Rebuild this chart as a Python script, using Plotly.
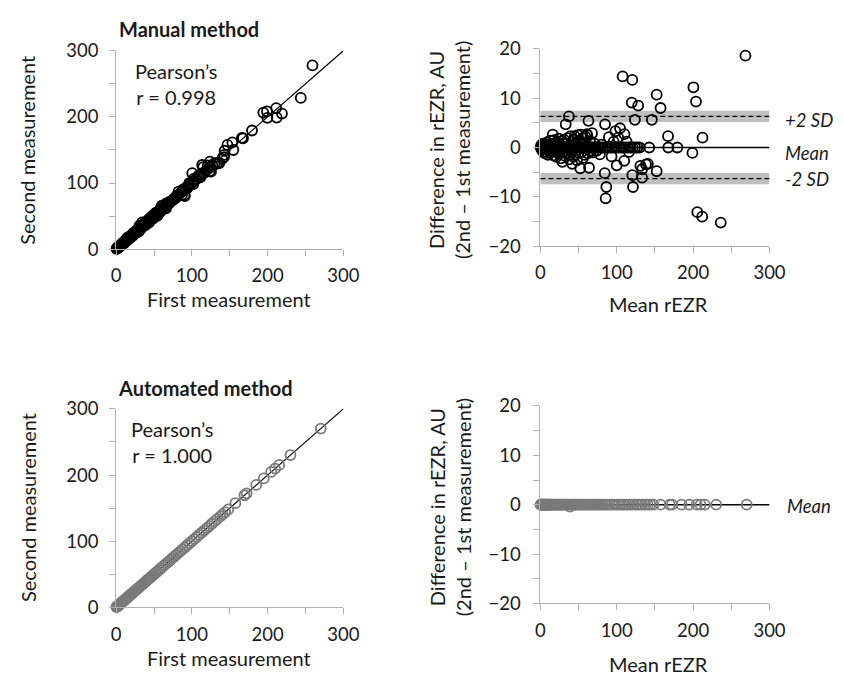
import plotly.graph_objects as go

# ---------------- data ----------------
# Manual method, Bland-Altman: mean of two measurements and difference (2nd - 1st)
manual_zero_mean = [0.5, 1, 1.5, 2, 2.5, 3, 3.5, 4, 4.5, 5, 5.5, 6, 7, 8, 9, 10, 11, 12, 13, 14,
                    15, 16, 17, 18, 19, 20, 21, 22, 23, 24, 25, 26, 27, 28, 29, 30, 32, 34, 36, 38,
                    40, 42, 44, 46, 48, 50, 52, 54, 56, 58, 60, 62, 64, 66, 68, 70, 73, 76, 79, 82,
                    85, 88, 91, 94, 97, 100, 103, 106, 109, 112, 115, 118, 121, 124, 127, 130,
                    142.6, 167.5, 179.4]
manual_pts_mean = [1, 2, 3, 4, 5, 6, 7, 8, 9, 10, 11, 12, 13, 14, 15, 16.2, 17, 18, 19, 20,
                   21, 22, 23, 24, 25, 26, 27, 28, 28.9, 30, 31, 32, 33.2, 34, 35, 36, 37.4, 38,
                   39.6, 40, 41.7, 42, 43, 44, 45, 46, 47, 48, 49, 50, 51, 52.3, 53, 54, 55, 56,
                   57, 58, 59, 60.9, 61.3, 62, 63, 63.8, 65, 66, 67.7, 69, 71, 74, 77.9, 80, 84.3,
                   84.7, 85.5, 86.4, 89.8, 93.2, 96, 98.3, 100, 102, 104.3, 107.7, 109.8, 110.2,
                   113, 116, 119.6, 120.4, 120.4, 121.3, 123.8, 128.1, 131, 133.2, 133.2, 138.3,
                   140.8, 146, 152.3, 152.3, 157.4, 167.2, 199.1, 200.4, 203.8, 205.5, 211.9,
                   212.3, 236.2, 268.5]
manual_pts_diff = [0.4, -0.5, 0.8, -0.9, 0.3, -1.2, 0.6, -0.4, 1.1, -1.5, 0.7, -0.8, 1.4, -1.1,
                   0.5, 2.6, -1.6, 1.5, -0.6, 0.9, -1.9, 1.2, -0.7, 1.8, -1.3, 0.6, -2.2, 1.3,
                   -2.9, -0.9, 1.6, -1.7, 4.7, 0.8, -1.2, 1.9, 6.3, -2.4, 2.3, -0.8, -3.3, 1.1,
                   -1.9, 1.6, 2.3, -1.4, 0.7, -2.6, 2.5, -1.1, 1.4, -4.2, 2.6, -0.9, 1.9, -2.1,
                   0.8, -1.5, 2.2, 2.7, 2.5, -1.2, 5.4, -4.1, 1.3, -0.7, 2.9, -1.0, 0.8, -0.6,
                   -1.4, 0.6, -5.2, 4.7, -10.3, -8.0, 2.1, -1.8, 1.2, 3.3, -3.6, 2.0, 3.9, 14.4,
                   -2.7, 2.7, 1.2, -0.9, 9.1, 13.7, -5.6, -8.0, 5.6, 8.5, -3.7, -6.1, -4.4, -3.4,
                   -3.3, 5.6, 10.7, -4.8, 8.0, 2.3, -1.1, 12.2, 9.3, -13.1, -14.0, 2.0, -15.2, 18.6]

manual_mean = manual_zero_mean + manual_pts_mean
manual_diff = [0.0] * len(manual_zero_mean) + manual_pts_diff
manual_first = [m - d / 2 for m, d in zip(manual_mean, manual_diff)]
manual_second = [m + d / 2 for m, d in zip(manual_mean, manual_diff)]

# Automated method, Bland-Altman
auto_mean = [0.3, 0.8, 1.2, 1.7, 2.1, 2.6, 3.0, 3.5, 4.1, 4.6, 5.2, 5.8, 6.4, 7.1, 7.8, 8.5,
             9.3, 10.1, 11.0, 11.9, 12.8, 13.8, 14.8, 15.9, 17.0, 18.2, 19.4, 20.7, 22.0, 23.4,
             24.8, 26.3, 27.8, 29.4, 31.0, 32.7, 34.4, 36.2, 38.7, 39.9, 41.8, 43.8, 45.8, 47.9,
             50.0, 52.2, 54.4, 56.7, 59.0, 61.4, 63.8, 66.3, 68.8, 71.4, 74.0, 76.7, 79.4, 82.2,
             85.0, 87.9, 90.8, 93.8, 96.8, 99.9, 103.0, 106.2, 109.4, 112.7, 116.0, 119.4, 122.8,
             126.3, 129.8, 133.4, 137.4, 140.6, 144.0, 148.0, 157.4, 169.4, 172.3, 185.0, 194.9,
             204.7, 209.8, 215.3, 230.2, 270.2]
auto_diff = [0.0] * 38 + [-0.4] + [0.0] * (len(auto_mean) - 39)
auto_first = [m - d / 2 for m, d in zip(auto_mean, auto_diff)]
auto_second = [m + d / 2 for m, d in zip(auto_mean, auto_diff)]

identity = [0, 300]
ba_mean_line = 0.0
sd_upper = 6.3
sd_lower = -6.3
sd_band = 1.15
ba_x_extent = [0, 300]

scatter_ticks = [0, 100, 200, 300]
ba_ticks = [-20, -10, 0, 10, 20]

# ---------------- styling ----------------
W, H = 844, 687
FONT = "Lato"
TXT = "#1a1a1a"
AXC = "#b0b0b0"
GRAY_MK = "#7a7a7a"
FS = 20
TFS = 18.5


def px(x):
    return x / W


def py(y):
    return 1 - y / H


fig = go.Figure()

for xa, ya in (("x", "y"), ("x3", "y3")):
    fig.add_trace(go.Scatter(x=identity, y=identity, mode="lines", xaxis=xa, yaxis=ya,
                             line=dict(color="black", width=1.2), hoverinfo="skip"))
for xa, ya in (("x2", "y2"), ("x4", "y4")):
    fig.add_trace(go.Scatter(x=ba_x_extent, y=[ba_mean_line] * 2, mode="lines", xaxis=xa, yaxis=ya,
                             line=dict(color="black", width=1.6), hoverinfo="skip"))

mk_black = dict(symbol="circle-open", size=10, color="black", line=dict(width=1.8))
mk_gray = dict(symbol="circle-open", size=10, color=GRAY_MK, line=dict(width=1.8))

fig.add_trace(go.Scatter(x=manual_first, y=manual_second, mode="markers", marker=mk_black,
                         xaxis="x", yaxis="y", cliponaxis=False))
fig.add_trace(go.Scatter(x=manual_mean, y=manual_diff, mode="markers", marker=mk_black,
                         xaxis="x2", yaxis="y2", cliponaxis=False))
fig.add_trace(go.Scatter(x=auto_first, y=auto_second, mode="markers", marker=mk_gray,
                         xaxis="x3", yaxis="y3", cliponaxis=False))
fig.add_trace(go.Scatter(x=auto_mean, y=auto_diff, mode="markers", marker=mk_gray,
                         xaxis="x4", yaxis="y4", cliponaxis=False))

shapes = []
for v in (sd_upper, sd_lower):
    shapes.append(dict(type="rect", xref="x2", yref="y2", x0=ba_x_extent[0], x1=ba_x_extent[1],
                       y0=v - sd_band, y1=v + sd_band, fillcolor="#c0c0c0", line=dict(width=0),
                       layer="below"))
    shapes.append(dict(type="line", xref="x2", yref="y2", x0=ba_x_extent[0], x1=ba_x_extent[1],
                       y0=v, y1=v, line=dict(color="black", width=1.2, dash="5px,3px"),
                       layer="below"))


def axis(domain, rng, ticks, minor, anchor, standoff):
    return dict(domain=domain, range=rng, tickvals=ticks, showline=True, linecolor=AXC,
                linewidth=1, ticks="outside", ticklen=6, tickcolor=AXC, tickwidth=1,
                minor=dict(dtick=minor, tick0=0, ticks="outside", ticklen=6, tickcolor=AXC, tickwidth=1),
                showgrid=False, zeroline=False, anchor=anchor, ticklabelstandoff=standoff,
                tickfont=dict(family=FONT, size=TFS, color=TXT), fixedrange=True)


dom_lx = [px(114), px(347)]
dom_rx = [px(549), px(784)]

layout = dict(
    width=W, height=H, margin=dict(l=0, r=0, t=0, b=0), showlegend=False,
    paper_bgcolor="white", plot_bgcolor="white",
    font=dict(family=FONT, size=FS, color=TXT),
    xaxis=axis(dom_lx, [0, 300], scatter_ticks, 50, "y", 4),
    yaxis=axis([py(245), py(40)], [0, 300], scatter_ticks, 50, "x", 7),
    xaxis2=axis(dom_rx, [0, 300], scatter_ticks, 50, "y2", 4),
    yaxis2=axis([py(242), py(38)], [-20, 20], ba_ticks, 5, "x2", 9),
    xaxis3=axis(dom_lx, [0, 300], scatter_ticks, 50, "y3", 4),
    yaxis3=axis([py(615), py(410)], [0, 300], scatter_ticks, 50, "x3", 7),
    xaxis4=axis(dom_rx, [0, 300], scatter_ticks, 50, "y4", 4),
    yaxis4=axis([py(611), py(407)], [-20, 20], ba_ticks, 5, "x4", 9),
    shapes=shapes,
)
fig.update_layout(**layout)


def ann(text, x, y, xanchor="center", yanchor="middle", angle=0, bold=False, italic=False, size=FS):
    t = text
    if bold:
        t = "<b>" + t + "</b>"
    if italic:
        t = "<i>" + t + "</i>"
    fig.add_annotation(text=t, x=px(x), y=py(y), xref="paper", yref="paper", showarrow=False,
                       xanchor=xanchor, yanchor=yanchor, textangle=angle,
                       font=dict(family=FONT, size=size, color=TXT))


ann("Manual method", 189, 18, bold=True)
ann("Automated method", 206, 388, bold=True)
ann("Second measurement", 23, 143, angle=-90)
ann("Second measurement", 23, 512, angle=-90)
ann("First measurement", 230, 297)
ann("First measurement", 230, 667)
ann("Difference in rEZR, AU<br>(2nd – 1st measurement)", 456, 143, angle=-90)
ann("Difference in rEZR, AU<br>(2nd – 1st measurement)", 456, 512, angle=-90)
ann("Mean rEZR", 670, 302)
ann("Mean rEZR", 670, 674)
ann("Pearson’s<br>r = 0.998", 131, 46, xanchor="left", yanchor="top")
ann("Pearson’s<br>r = 1.000", 127, 416, xanchor="left", yanchor="top")
ann("+2 SD", 798, 112, xanchor="left", italic=True, size=TFS)
ann("Mean", 798, 146, xanchor="left", italic=True, size=TFS)
ann("-2 SD", 798, 173, xanchor="left", italic=True, size=TFS)
ann("Mean", 800, 510, xanchor="left", italic=True, size=TFS)

fig.write_html("out.html")
